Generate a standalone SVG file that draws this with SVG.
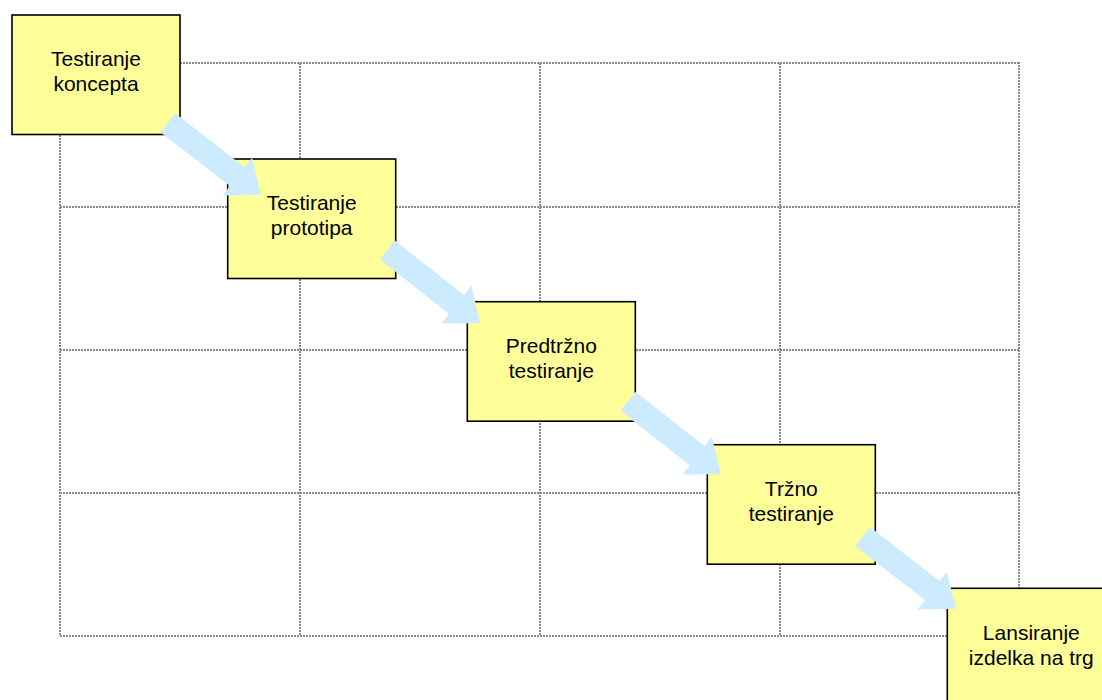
<svg xmlns="http://www.w3.org/2000/svg" width="1102" height="700" viewBox="0 0 1102 700">
  <style>
    .grid line { stroke: #8a8a8a; stroke-width: 2; stroke-dasharray: 2 1; fill: none; }
    .box { fill: #FFFF99; stroke: #000; stroke-width: 1.6; }
    .label { font-family: "Liberation Sans", Arial, sans-serif; font-size: 21px; fill: #000; text-anchor: middle; }
    .flow { fill: #CCEBFF; }
  </style>
  <defs>
    <!-- block arrow pointing along +x, tail centred on the origin -->
    <polygon id="blockArrow" points="0,-12 88,-12 88,-24 118,0 88,24 88,12 0,12"/>
  </defs>
  <rect width="1102" height="700" fill="#fff"/>

  <!-- background dotted grid -->
  <g id="grid" class="grid">
    <line x1="60" y1="63" x2="1019" y2="63"/>
    <line x1="60" y1="207" x2="1019" y2="207"/>
    <line x1="60" y1="350" x2="1019" y2="350"/>
    <line x1="60" y1="493" x2="1019" y2="493"/>
    <line x1="60" y1="636" x2="1020" y2="636"/>
    <line x1="60" y1="63" x2="60" y2="636"/>
    <line x1="300" y1="63" x2="300" y2="636"/>
    <line x1="540" y1="63" x2="540" y2="636"/>
    <line x1="780" y1="63" x2="780" y2="636"/>
    <line x1="1019" y1="62" x2="1019" y2="636"/>
  </g>

  <g id="node-koncept">
    <rect class="box" x="12" y="15" width="168" height="119.5"/>
    <text class="label" x="96" y="66">Testiranje</text>
    <text class="label" x="96" y="91">koncepta</text>
  </g>
  <g id="node-prototip">
    <rect class="box" x="227.7" y="159" width="168" height="119.5"/>
    <text class="label" x="311.7" y="210">Testiranje</text>
    <text class="label" x="311.7" y="235">prototipa</text>
  </g>
  <g id="node-predtrzno">
    <rect class="box" x="467.3" y="301.7" width="168" height="119.5"/>
    <text class="label" x="551.3" y="353">Predtržno</text>
    <text class="label" x="551.3" y="378">testiranje</text>
  </g>
  <g id="node-trzno">
    <rect class="box" x="707.3" y="444.7" width="168" height="119.5"/>
    <text class="label" x="791.3" y="496">Tržno</text>
    <text class="label" x="791.3" y="521">testiranje</text>
  </g>
  <g id="node-lansiranje">
    <rect class="box" x="947.3" y="588.3" width="168" height="119.5"/>
    <text class="label" x="1031.3" y="639.5">Lansiranje</text>
    <text class="label" x="1031.3" y="664.5">izdelka na trg</text>
  </g>

  <!-- flow arrows between stages -->
  <g id="connectors" class="flow">
    <use href="#blockArrow" transform="translate(167.8 122.7) rotate(37.8)"/>
    <use href="#blockArrow" transform="translate(387.5 250) rotate(38.3)"/>
    <use href="#blockArrow" transform="translate(626.7 400.3) rotate(38.2) translate(1.6 0)"/>
    <use href="#blockArrow" transform="translate(859.5 534.2) rotate(37.7) translate(3.9 0)"/>
  </g>
</svg>
